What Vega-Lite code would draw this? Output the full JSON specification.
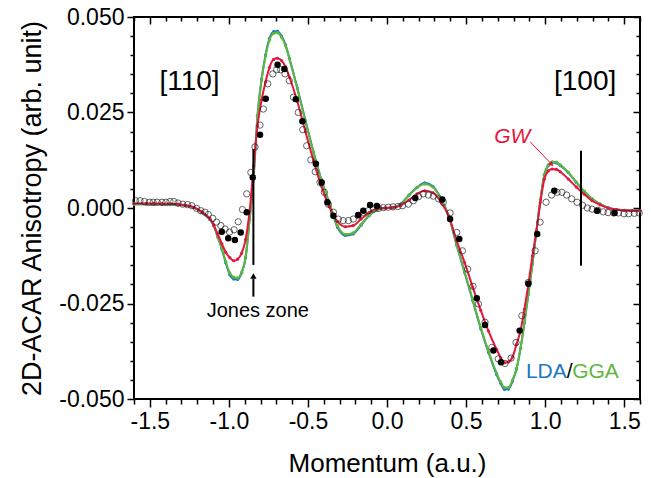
{
  "$schema": "https://vega.github.io/schema/vega-lite/v6.json",
  "width": 506,
  "height": 382,
  "autosize": "none",
  "padding": {"left": 134, "top": 17, "right": 11, "bottom": 79},
  "background": "white",
  "config": {
    "view": {"stroke": "black", "strokeWidth": 2},
    "font": "Liberation Sans",
    "locale": {"number": {"decimal": ".", "thousands": ",", "grouping": [3], "currency": ["$", ""], "minus": "-"}},
    "axis": {"domain": false, "grid": false, "tickColor": "black", "tickWidth": 1.5, "labelColor": "black", "titleColor": "black", "labelFont": "Liberation Sans", "titleFont": "Liberation Sans", "titleFontWeight": "normal"}
  },
  "datasets": {
    "lda": [
      {"x":-1.6,"y":0.0010},{"x":-1.523,"y":0.0010},{"x":-1.474,"y":0.0010},{"x":-1.423,"y":0.0010},{"x":-1.372,"y":0.0009},{"x":-1.322,"y":0.0008},{"x":-1.272,"y":0.0006},{"x":-1.222,"y":0.0001},{"x":-1.171,"y":-0.0012},{"x":-1.120,"y":-0.0030},{"x":-1.096,"y":-0.0046},{"x":-1.071,"y":-0.0076},{"x":-1.045,"y":-0.0107},{"x":-1.020,"y":-0.0143},{"x":-0.994,"y":-0.0175},{"x":-0.969,"y":-0.0186},{"x":-0.945,"y":-0.0187},{"x":-0.919,"y":-0.0170},{"x":-0.894,"y":-0.0130},{"x":-0.869,"y":-0.0030},{"x":-0.843,"y":0.0085},{"x":-0.819,"y":0.0242},{"x":-0.793,"y":0.0338},{"x":-0.768,"y":0.0401},{"x":-0.743,"y":0.0444},{"x":-0.717,"y":0.0462},{"x":-0.693,"y":0.0463},{"x":-0.667,"y":0.0450},{"x":-0.642,"y":0.0428},{"x":-0.617,"y":0.0392},{"x":-0.567,"y":0.0314},{"x":-0.516,"y":0.0229},{"x":-0.465,"y":0.0147},{"x":-0.416,"y":0.0075},{"x":-0.365,"y":0.0013},{"x":-0.314,"y":-0.0050},{"x":-0.264,"y":-0.0072},{"x":-0.214,"y":-0.0068},{"x":-0.164,"y":-0.0045},{"x":-0.113,"y":-0.0020},{"x":-0.062,"y":-0.0005},{"x":-0.013,"y":0.0000},{"x":0.038,"y":0.0001},{"x":0.088,"y":0.0011},{"x":0.139,"y":0.0034},{"x":0.190,"y":0.0054},{"x":0.239,"y":0.0066},{"x":0.290,"y":0.0057},{"x":0.340,"y":0.0026},{"x":0.391,"y":-0.0022},{"x":0.441,"y":-0.0098},{"x":0.491,"y":-0.0169},{"x":0.542,"y":-0.0243},{"x":0.593,"y":-0.0316},{"x":0.642,"y":-0.0378},{"x":0.693,"y":-0.0436},{"x":0.719,"y":-0.0459},{"x":0.743,"y":-0.0475},{"x":0.768,"y":-0.0474},{"x":0.794,"y":-0.0453},{"x":0.819,"y":-0.0422},{"x":0.845,"y":-0.0367},{"x":0.869,"y":-0.0301},{"x":0.894,"y":-0.0226},{"x":0.920,"y":-0.0146},{"x":0.945,"y":-0.0061},{"x":0.970,"y":0.0021},{"x":0.995,"y":0.0086},{"x":1.020,"y":0.0111},{"x":1.046,"y":0.0119},{"x":1.071,"y":0.0118},{"x":1.096,"y":0.0111},{"x":1.146,"y":0.0093},{"x":1.197,"y":0.0067},{"x":1.248,"y":0.0043},{"x":1.297,"y":0.0024},{"x":1.348,"y":0.0010},{"x":1.398,"y":0.0001},{"x":1.449,"y":-0.0004},{"x":1.500,"y":-0.0006},{"x":1.549,"y":-0.0007},{"x":1.6,"y":-0.0007}
    ],
    "gga": [
      {"x":-1.6,"y":0.0010},{"x":-1.523,"y":0.0010},{"x":-1.474,"y":0.0010},{"x":-1.423,"y":0.0010},{"x":-1.372,"y":0.0009},{"x":-1.322,"y":0.0008},{"x":-1.272,"y":0.0006},{"x":-1.222,"y":0.0001},{"x":-1.171,"y":-0.0012},{"x":-1.120,"y":-0.0030},{"x":-1.096,"y":-0.0045},{"x":-1.071,"y":-0.0075},{"x":-1.045,"y":-0.0105},{"x":-1.020,"y":-0.0140},{"x":-0.994,"y":-0.0170},{"x":-0.969,"y":-0.0181},{"x":-0.945,"y":-0.0183},{"x":-0.919,"y":-0.0168},{"x":-0.894,"y":-0.0128},{"x":-0.869,"y":-0.0030},{"x":-0.843,"y":0.0085},{"x":-0.819,"y":0.0240},{"x":-0.793,"y":0.0335},{"x":-0.768,"y":0.0398},{"x":-0.743,"y":0.0440},{"x":-0.717,"y":0.0457},{"x":-0.693,"y":0.0459},{"x":-0.667,"y":0.0447},{"x":-0.642,"y":0.0425},{"x":-0.617,"y":0.0390},{"x":-0.567,"y":0.0312},{"x":-0.516,"y":0.0228},{"x":-0.465,"y":0.0146},{"x":-0.416,"y":0.0075},{"x":-0.365,"y":0.0014},{"x":-0.314,"y":-0.0046},{"x":-0.264,"y":-0.0069},{"x":-0.214,"y":-0.0065},{"x":-0.164,"y":-0.0043},{"x":-0.113,"y":-0.0019},{"x":-0.062,"y":-0.0005},{"x":-0.013,"y":0.0000},{"x":0.038,"y":0.0001},{"x":0.088,"y":0.0010},{"x":0.139,"y":0.0033},{"x":0.190,"y":0.0053},{"x":0.239,"y":0.0063},{"x":0.290,"y":0.0055},{"x":0.340,"y":0.0025},{"x":0.391,"y":-0.0022},{"x":0.441,"y":-0.0097},{"x":0.491,"y":-0.0167},{"x":0.542,"y":-0.0240},{"x":0.593,"y":-0.0313},{"x":0.642,"y":-0.0375},{"x":0.693,"y":-0.0432},{"x":0.719,"y":-0.0455},{"x":0.743,"y":-0.0470},{"x":0.768,"y":-0.0470},{"x":0.794,"y":-0.0450},{"x":0.819,"y":-0.0420},{"x":0.845,"y":-0.0365},{"x":0.869,"y":-0.0300},{"x":0.894,"y":-0.0225},{"x":0.920,"y":-0.0145},{"x":0.945,"y":-0.0060},{"x":0.970,"y":0.0022},{"x":0.995,"y":0.0088},{"x":1.020,"y":0.0113},{"x":1.046,"y":0.0121},{"x":1.071,"y":0.0120},{"x":1.096,"y":0.0113},{"x":1.146,"y":0.0094},{"x":1.197,"y":0.0068},{"x":1.248,"y":0.0044},{"x":1.297,"y":0.0024},{"x":1.348,"y":0.0010},{"x":1.398,"y":0.0001},{"x":1.449,"y":-0.0004},{"x":1.500,"y":-0.0006},{"x":1.549,"y":-0.0007},{"x":1.6,"y":-0.0007}
    ],
    "gw": [
      {"x":-1.6,"y":0.0012},{"x":-1.523,"y":0.0012},{"x":-1.474,"y":0.0012},{"x":-1.423,"y":0.0011},{"x":-1.372,"y":0.0011},{"x":-1.322,"y":0.0010},{"x":-1.272,"y":0.0007},{"x":-1.222,"y":0.0002},{"x":-1.171,"y":-0.0010},{"x":-1.120,"y":-0.0028},{"x":-1.096,"y":-0.0045},{"x":-1.071,"y":-0.0068},{"x":-1.045,"y":-0.0093},{"x":-1.020,"y":-0.0116},{"x":-0.994,"y":-0.0130},{"x":-0.969,"y":-0.0138},{"x":-0.945,"y":-0.0134},{"x":-0.919,"y":-0.0118},{"x":-0.894,"y":-0.0082},{"x":-0.869,"y":-0.0008},{"x":-0.843,"y":0.0110},{"x":-0.819,"y":0.0215},{"x":-0.793,"y":0.0283},{"x":-0.768,"y":0.0330},{"x":-0.743,"y":0.0368},{"x":-0.717,"y":0.0389},{"x":-0.693,"y":0.0392},{"x":-0.667,"y":0.0386},{"x":-0.642,"y":0.0370},{"x":-0.617,"y":0.0343},{"x":-0.567,"y":0.0279},{"x":-0.516,"y":0.0200},{"x":-0.465,"y":0.0124},{"x":-0.416,"y":0.0058},{"x":-0.365,"y":0.0003},{"x":-0.314,"y":-0.0035},{"x":-0.264,"y":-0.0049},{"x":-0.214,"y":-0.0046},{"x":-0.164,"y":-0.0029},{"x":-0.113,"y":-0.0012},{"x":-0.062,"y":-0.0001},{"x":-0.013,"y":0.0000},{"x":0.038,"y":0.0001},{"x":0.088,"y":0.0007},{"x":0.139,"y":0.0021},{"x":0.190,"y":0.0037},{"x":0.239,"y":0.0045},{"x":0.290,"y":0.0040},{"x":0.340,"y":0.0016},{"x":0.391,"y":-0.0022},{"x":0.441,"y":-0.0086},{"x":0.491,"y":-0.0143},{"x":0.542,"y":-0.0207},{"x":0.593,"y":-0.0268},{"x":0.642,"y":-0.0322},{"x":0.693,"y":-0.0370},{"x":0.719,"y":-0.0392},{"x":0.743,"y":-0.0405},{"x":0.768,"y":-0.0403},{"x":0.794,"y":-0.0390},{"x":0.819,"y":-0.0357},{"x":0.845,"y":-0.0320},{"x":0.869,"y":-0.0265},{"x":0.894,"y":-0.0200},{"x":0.920,"y":-0.0125},{"x":0.945,"y":-0.0060},{"x":0.970,"y":0.0015},{"x":0.995,"y":0.0075},{"x":1.020,"y":0.0097},{"x":1.046,"y":0.0102},{"x":1.071,"y":0.0101},{"x":1.096,"y":0.0095},{"x":1.146,"y":0.0076},{"x":1.197,"y":0.0055},{"x":1.248,"y":0.0036},{"x":1.297,"y":0.0019},{"x":1.348,"y":0.0008},{"x":1.398,"y":0.0000},{"x":1.449,"y":-0.0004},{"x":1.500,"y":-0.0006},{"x":1.549,"y":-0.0007},{"x":1.6,"y":-0.0007}
    ],
    "open": [
      {"x":-1.590,"y":0.0019},{"x":-1.562,"y":0.0019},{"x":-1.534,"y":0.0017},{"x":-1.503,"y":0.0015},{"x":-1.479,"y":0.0015},{"x":-1.453,"y":0.0015},{"x":-1.423,"y":0.0015},{"x":-1.398,"y":0.0015},{"x":-1.372,"y":0.0017},{"x":-1.348,"y":0.0017},{"x":-1.322,"y":0.0013},{"x":-1.292,"y":0.0010},{"x":-1.261,"y":0.0009},{"x":-1.234,"y":0.0006},{"x":-1.204,"y":-0.0001},{"x":-1.178,"y":-0.0007},{"x":-1.151,"y":-0.0011},{"x":-1.130,"y":-0.0017},{"x":-1.102,"y":-0.0027},{"x":-1.078,"y":-0.0037},{"x":-1.051,"y":-0.0046},{"x":-1.024,"y":-0.0055},{"x":-0.996,"y":-0.0063},{"x":-0.967,"y":-0.0057},{"x":-0.941,"y":-0.0036},{"x":-0.914,"y":-0.0004},{"x":-0.887,"y":0.0037},{"x":-0.861,"y":0.0093},{"x":-0.835,"y":0.0160},{"x":-0.803,"y":0.0217},{"x":-0.782,"y":0.0259},{"x":-0.754,"y":0.0325},{"x":-0.722,"y":0.0351},{"x":-0.698,"y":0.0362},{"x":-0.673,"y":0.0362},{"x":-0.645,"y":0.0351},{"x":-0.618,"y":0.0333},{"x":-0.592,"y":0.0290},{"x":-0.561,"y":0.0250},{"x":-0.533,"y":0.0205},{"x":-0.508,"y":0.0163},{"x":-0.482,"y":0.0126},{"x":-0.454,"y":0.0095},{"x":-0.424,"y":0.0067},{"x":-0.396,"y":0.0041},{"x":-0.371,"y":0.0010},{"x":-0.339,"y":-0.0011},{"x":-0.308,"y":-0.0029},{"x":-0.277,"y":-0.0033},{"x":-0.244,"y":-0.0033},{"x":-0.213,"y":-0.0029},{"x":-0.182,"y":-0.0020},{"x":-0.150,"y":-0.0011},{"x":-0.118,"y":-0.0007},{"x":-0.086,"y":-0.0003},{"x":-0.053,"y":-0.0001},{"x":-0.023,"y":0.0001},{"x":0.008,"y":0.0002},{"x":0.038,"y":0.0003},{"x":0.069,"y":0.0004},{"x":0.098,"y":0.0006},{"x":0.135,"y":0.0010},{"x":0.167,"y":0.0019},{"x":0.200,"y":0.0030},{"x":0.229,"y":0.0037},{"x":0.262,"y":0.0034},{"x":0.293,"y":0.0031},{"x":0.326,"y":0.0024},{"x":0.356,"y":0.0015},{"x":0.399,"y":-0.0013},{"x":0.441,"y":-0.0064},{"x":0.477,"y":-0.0112},{"x":0.510,"y":-0.0160},{"x":0.544,"y":-0.0205},{"x":0.578,"y":-0.0251},{"x":0.620,"y":-0.0299},{"x":0.663,"y":-0.0365},{"x":0.704,"y":-0.0395},{"x":0.746,"y":-0.0407},{"x":0.785,"y":-0.0393},{"x":0.816,"y":-0.0352},{"x":0.853,"y":-0.0282},{"x":0.894,"y":-0.0195},{"x":0.937,"y":-0.0112},{"x":0.968,"y":-0.0037},{"x":1.006,"y":0.0015},{"x":1.041,"y":0.0034},{"x":1.076,"y":0.0041},{"x":1.106,"y":0.0041},{"x":1.136,"y":0.0034},{"x":1.168,"y":0.0024},{"x":1.202,"y":0.0015},{"x":1.237,"y":0.0007},{"x":1.267,"y":0.0000},{"x":1.297,"y":-0.0003},{"x":1.333,"y":-0.0006},{"x":1.368,"y":-0.0010},{"x":1.398,"y":-0.0012},{"x":1.433,"y":-0.0013},{"x":1.464,"y":-0.0013},{"x":1.499,"y":-0.0015},{"x":1.529,"y":-0.0015},{"x":1.564,"y":-0.0014},{"x":1.595,"y":-0.0013}
    ],
    "filled": [
      {"x":-1.045,"y":-0.0062},{"x":-1.004,"y":-0.0079},{"x":-0.962,"y":-0.0084},{"x":-0.925,"y":-0.0064},{"x":-0.887,"y":-0.0011},{"x":-0.849,"y":0.0080},{"x":-0.803,"y":0.0192},{"x":-0.767,"y":0.0286},{"x":-0.692,"y":0.0375},{"x":-0.649,"y":0.0364},{"x":-0.577,"y":0.0285},{"x":-0.535,"y":0.0227},{"x":-0.450,"y":0.0116},{"x":-0.413,"y":0.0067},{"x":-0.377,"y":0.0015},{"x":-0.339,"y":-0.0020},{"x":-0.182,"y":-0.0018},{"x":-0.150,"y":-0.0007},{"x":-0.107,"y":0.0008},{"x":-0.064,"y":0.0005},{"x":0.179,"y":0.0026},{"x":0.350,"y":0.0022},{"x":0.399,"y":-0.0029},{"x":0.457,"y":-0.0081},{"x":0.568,"y":-0.0236},{"x":0.620,"y":-0.0306},{"x":0.673,"y":-0.0373},{"x":0.721,"y":-0.0404},{"x":0.839,"y":-0.0321},{"x":0.894,"y":-0.0198},{"x":0.950,"y":-0.0068},{"x":1.058,"y":0.0045},{"x":1.328,"y":-0.0007},{"x":1.439,"y":-0.0013}
    ],
    "vlines": [
      {"x":-0.845,"y":0.0154,"y2":-0.0149},
      {"x":1.227,"y":0.0150,"y2":-0.0151},
      {"x":-0.845,"y":-0.0232,"y2":-0.0185}
    ]
  },
  "resolve": {"axis": {"x": "independent", "y": "independent"}},
  "layer": [
    {
      "mark": {"type": "rule", "color": "black", "strokeWidth": 2},
      "encoding": {
        "y": {"datum": 0, "type": "quantitative", "scale": {"domain": [-0.05, 0.05], "nice": false, "zero": false}, "axis": null}
      }
    },
    {
      "mark": {"type": "rule", "color": "black", "strokeWidth": 2},
      "encoding": {
        "x": {"datum": 0, "type": "quantitative", "scale": {"domain": [-1.6, 1.6], "nice": false, "zero": false}, "axis": null}
      }
    },
    {
      "data": {"name": "lda"},
      "mark": {"type": "line", "interpolate": "monotone", "color": "#2277c2", "strokeWidth": 2, "point": {"filled": true, "size": 10, "color": "#2277c2"}},
      "encoding": {
        "x": {"field": "x", "type": "quantitative", "scale": {"domain": [-1.6, 1.6], "nice": false, "zero": false},
              "axis": {"orient": "bottom", "values": [-1.5, -1, -0.5, 0, 0.5, 1, 1.5], "format": ".1f", "tickSize": 8, "labelFontSize": 23, "labelPadding": 3, "title": "Momentum (a.u.)", "titleFontSize": 26, "titlePadding": 17}},
        "y": {"field": "y", "type": "quantitative", "scale": {"domain": [-0.05, 0.05], "nice": false, "zero": false},
              "axis": {"orient": "left", "values": [-0.05, -0.025, 0, 0.025, 0.05], "format": ".3f", "tickSize": 7, "labelFontSize": 23, "labelPadding": 3, "title": "2D-ACAR Anisotropy (arb. unit)", "titleFontSize": 27, "titlePadding": 12}}
      }
    },
    {
      "data": {"name": "gga"},
      "mark": {"type": "line", "interpolate": "monotone", "color": "#5cb83c", "strokeWidth": 2, "point": {"filled": true, "size": 10, "color": "#5cb83c"}},
      "encoding": {
        "x": {"field": "x", "type": "quantitative", "scale": {"domain": [-1.6, 1.6], "nice": false, "zero": false},
              "axis": {"orient": "bottom", "values": [-1.6,-1.4,-1.3,-1.2,-1.1,-0.9,-0.8,-0.7,-0.6,-0.4,-0.3,-0.2,-0.1,0.1,0.2,0.3,0.4,0.6,0.7,0.8,0.9,1.1,1.2,1.3,1.4,1.6], "tickSize": 5, "labels": false, "title": null}},
        "y": {"field": "y", "type": "quantitative", "scale": {"domain": [-0.05, 0.05], "nice": false, "zero": false},
              "axis": {"orient": "left", "values": [-0.045,-0.04,-0.035,-0.03,-0.02,-0.015,-0.01,-0.005,0.005,0.01,0.015,0.02,0.03,0.035,0.04,0.045], "tickSize": 4, "labels": false, "title": null}}
      }
    },
    {
      "data": {"name": "gw"},
      "mark": {"type": "line", "interpolate": "monotone", "color": "#e3173e", "strokeWidth": 2, "point": {"filled": true, "size": 10, "color": "#e3173e"}},
      "encoding": {
        "x": {"field": "x", "type": "quantitative", "scale": {"domain": [-1.6, 1.6], "nice": false, "zero": false},
              "axis": {"orient": "top", "values": [-1.5, -1, -0.5, 0, 0.5, 1, 1.5], "tickSize": -7, "labels": false, "title": null}},
        "y": {"field": "y", "type": "quantitative", "scale": {"domain": [-0.05, 0.05], "nice": false, "zero": false},
              "axis": {"orient": "right", "values": [-0.05, -0.025, 0, 0.025, 0.05], "tickSize": -7, "labels": false, "title": null}}
      }
    },
    {
      "data": {"name": "open"},
      "mark": {"type": "point", "shape": "circle", "filled": false, "size": 40, "stroke": "#222222", "strokeWidth": 1},
      "encoding": {
        "x": {"field": "x", "type": "quantitative", "scale": {"domain": [-1.6, 1.6], "nice": false, "zero": false},
              "axis": {"orient": "top", "values": [-1.6,-1.4,-1.3,-1.2,-1.1,-0.9,-0.8,-0.7,-0.6,-0.4,-0.3,-0.2,-0.1,0.1,0.2,0.3,0.4,0.6,0.7,0.8,0.9,1.1,1.2,1.3,1.4,1.6], "tickSize": -4, "labels": false, "title": null}},
        "y": {"field": "y", "type": "quantitative", "scale": {"domain": [-0.05, 0.05], "nice": false, "zero": false},
              "axis": {"orient": "right", "values": [-0.045,-0.04,-0.035,-0.03,-0.02,-0.015,-0.01,-0.005,0.005,0.01,0.015,0.02,0.03,0.035,0.04,0.045], "tickSize": -4, "labels": false, "title": null}}
      }
    },
    {
      "data": {"name": "filled"},
      "mark": {"type": "point", "shape": "circle", "filled": true, "size": 42, "color": "black", "opacity": 1},
      "encoding": {
        "x": {"field": "x", "type": "quantitative", "scale": {"domain": [-1.6, 1.6], "nice": false, "zero": false}, "axis": null},
        "y": {"field": "y", "type": "quantitative", "scale": {"domain": [-0.05, 0.05], "nice": false, "zero": false}, "axis": null}
      }
    },
    {
      "data": {"name": "vlines"},
      "mark": {"type": "rule", "color": "black", "strokeWidth": 2},
      "encoding": {
        "x": {"field": "x", "type": "quantitative", "scale": {"domain": [-1.6, 1.6], "nice": false, "zero": false}, "axis": null},
        "y": {"field": "y", "type": "quantitative", "scale": {"domain": [-0.05, 0.05], "nice": false, "zero": false}, "axis": null},
        "y2": {"field": "y2"}
      }
    },
    {
      "data": {"values": [{"x": -0.845, "y": -0.0178}]},
      "mark": {"type": "point", "shape": "triangle-up", "filled": true, "size": 40, "color": "black", "opacity": 1},
      "encoding": {
        "x": {"field": "x", "type": "quantitative", "scale": {"domain": [-1.6, 1.6], "nice": false, "zero": false}, "axis": null},
        "y": {"field": "y", "type": "quantitative", "scale": {"domain": [-0.05, 0.05], "nice": false, "zero": false}, "axis": null}
      }
    },
    {
      "data": {"values": [{"x": 0.906, "y": 0.0173, "x2": 1.035, "y2": 0.0117}]},
      "mark": {"type": "rule", "color": "#e3173e", "strokeWidth": 1},
      "encoding": {
        "x": {"field": "x", "type": "quantitative", "scale": {"domain": [-1.6, 1.6], "nice": false, "zero": false}, "axis": null},
        "y": {"field": "y", "type": "quantitative", "scale": {"domain": [-0.05, 0.05], "nice": false, "zero": false}, "axis": null},
        "x2": {"field": "x2"},
        "y2": {"field": "y2"}
      }
    },
    {
      "data": {"values": [{"x": 1.041, "y": 0.0114}]},
      "mark": {"type": "point", "shape": "triangle-up", "filled": true, "size": 30, "color": "#e3173e", "opacity": 1, "angle": 132},
      "encoding": {
        "x": {"field": "x", "type": "quantitative", "scale": {"domain": [-1.6, 1.6], "nice": false, "zero": false}, "axis": null},
        "y": {"field": "y", "type": "quantitative", "scale": {"domain": [-0.05, 0.05], "nice": false, "zero": false}, "axis": null}
      }
    },
    {
      "data": {"values": [{"x": -1.249, "y": 0.033, "label": "[110]"}, {"x": 1.253, "y": 0.033, "label": "[100]"}]},
      "mark": {"type": "text", "fontSize": 28, "font": "Liberation Sans", "align": "center", "baseline": "middle", "color": "black"},
      "encoding": {
        "x": {"field": "x", "type": "quantitative", "scale": {"domain": [-1.6, 1.6], "nice": false, "zero": false}, "axis": null},
        "y": {"field": "y", "type": "quantitative", "scale": {"domain": [-0.05, 0.05], "nice": false, "zero": false}, "axis": null},
        "text": {"field": "label"}
      }
    },
    {
      "data": {"values": [{"x": -0.817, "y": -0.0269, "label": "Jones zone"}]},
      "mark": {"type": "text", "fontSize": 20, "font": "Liberation Sans", "align": "center", "baseline": "middle", "color": "black"},
      "encoding": {
        "x": {"field": "x", "type": "quantitative", "scale": {"domain": [-1.6, 1.6], "nice": false, "zero": false}, "axis": null},
        "y": {"field": "y", "type": "quantitative", "scale": {"domain": [-0.05, 0.05], "nice": false, "zero": false}, "axis": null},
        "text": {"field": "label"}
      }
    },
    {
      "data": {"values": [{"x": 0.792, "y": 0.0186, "label": "GW"}]},
      "mark": {"type": "text", "fontSize": 21, "font": "Liberation Sans", "fontStyle": "italic", "align": "center", "baseline": "middle", "color": "#e3173e"},
      "encoding": {
        "x": {"field": "x", "type": "quantitative", "scale": {"domain": [-1.6, 1.6], "nice": false, "zero": false}, "axis": null},
        "y": {"field": "y", "type": "quantitative", "scale": {"domain": [-0.05, 0.05], "nice": false, "zero": false}, "axis": null},
        "text": {"field": "label"}
      }
    },
    {
      "data": {"values": [{"x": 1.137, "y": -0.043, "label": "LDA"}]},
      "mark": {"type": "text", "fontSize": 21, "font": "Liberation Sans", "align": "right", "baseline": "middle", "color": "#2277c2"},
      "encoding": {
        "x": {"field": "x", "type": "quantitative", "scale": {"domain": [-1.6, 1.6], "nice": false, "zero": false}, "axis": null},
        "y": {"field": "y", "type": "quantitative", "scale": {"domain": [-0.05, 0.05], "nice": false, "zero": false}, "axis": null},
        "text": {"field": "label"}
      }
    },
    {
      "data": {"values": [{"x": 1.155, "y": -0.043, "label": "/"}]},
      "mark": {"type": "text", "fontSize": 21, "font": "Liberation Sans", "align": "center", "baseline": "middle", "color": "black"},
      "encoding": {
        "x": {"field": "x", "type": "quantitative", "scale": {"domain": [-1.6, 1.6], "nice": false, "zero": false}, "axis": null},
        "y": {"field": "y", "type": "quantitative", "scale": {"domain": [-0.05, 0.05], "nice": false, "zero": false}, "axis": null},
        "text": {"field": "label"}
      }
    },
    {
      "data": {"values": [{"x": 1.171, "y": -0.043, "label": "GGA"}]},
      "mark": {"type": "text", "fontSize": 21, "font": "Liberation Sans", "align": "left", "baseline": "middle", "color": "#5cb83c"},
      "encoding": {
        "x": {"field": "x", "type": "quantitative", "scale": {"domain": [-1.6, 1.6], "nice": false, "zero": false}, "axis": null},
        "y": {"field": "y", "type": "quantitative", "scale": {"domain": [-0.05, 0.05], "nice": false, "zero": false}, "axis": null},
        "text": {"field": "label"}
      }
    }
  ]
}
